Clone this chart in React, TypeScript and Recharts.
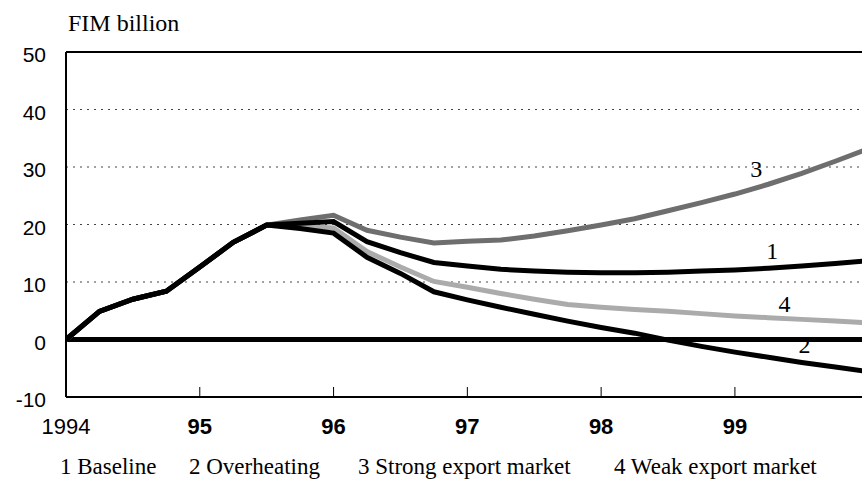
import {
  LineChart, Line, XAxis, YAxis, CartesianGrid, ReferenceLine, ReferenceDot
} from 'recharts';

const quarters = [
  1994, 1994.25, 1994.5, 1994.75, 1995, 1995.25, 1995.5, 1995.75,
  1996, 1996.25, 1996.5, 1996.75, 1997, 1997.25, 1997.5, 1997.75,
  1998, 1998.25, 1998.5, 1998.75, 1999, 1999.25, 1999.5, 1999.75, 2000,
];

const baseline = [
  0, 4.9, 7.0, 8.4, 12.6, 16.9, 19.9, 20.2,
  20.5, 17.0, 15.1, 13.4, 12.8, 12.2, 11.9, 11.7,
  11.6, 11.6, 11.7, 11.9, 12.1, 12.4, 12.8, 13.2, 13.7,
];
const overheating = [
  0, 4.9, 7.0, 8.4, 12.6, 16.9, 19.9, 19.3,
  18.5, 14.3, 11.5, 8.3, 6.9, 5.6, 4.4, 3.2,
  2.1, 1.1, -0.1, -1.2, -2.2, -3.1, -4.0, -4.8, -5.6,
];
const strongExport = [
  0, 4.9, 7.0, 8.4, 12.6, 16.9, 19.9, 20.8,
  21.6, 19.0, 17.8, 16.8, 17.1, 17.3, 18.0, 18.9,
  19.9, 21.0, 22.4, 23.8, 25.3, 27.0, 28.9, 31.0, 33.2,
];
const weakExport = [
  0, 4.9, 7.0, 8.4, 12.6, 16.9, 19.9, 19.7,
  19.4, 15.3, 12.6, 10.1, 9.1, 8.0, 7.0, 6.1,
  5.6, 5.2, 4.9, 4.5, 4.1, 3.8, 3.5, 3.2, 2.9,
];

const yTicks = [-10, 0, 10, 20, 30, 40, 50];
const xTicks = [1994, 1995, 1996, 1997, 1998, 1999];
const xTickLabels = ['1994', '95', '96', '97', '98', '99'];

const legendItems = [
  { text: '1 Baseline', left: 60 },
  { text: '2 Overheating', left: 189 },
  { text: '3 Strong export market', left: 358 },
  { text: '4 Weak export market', left: 614 },
];

// curve number tags placed in data coordinates
const tags = [
  { label: '3', x: 1999.16, y: 28.3 },
  { label: '1', x: 1999.28, y: 14.0 },
  { label: '4', x: 1999.37, y: 4.8 },
  { label: '2', x: 1999.52, y: -2.35 },
];

const data = quarters.map((t, i) => ({
  t,
  baseline: baseline[i],
  overheating: overheating[i],
  strong: strongExport[i],
  weak: weakExport[i],
}));

const serif = "'Liberation Serif', 'Times New Roman', Times, serif";
const sans = "'Liberation Sans', Arial, sans-serif";

function XTick(props: any) {
  const { x, y, payload } = props;
  const idx = xTicks.indexOf(payload.value);
  return (
    <g>
      <line x1={x} x2={x} y1={y - 10} y2={y} stroke="#000" strokeWidth={1} />
      <text
        x={x}
        y={y + 37}
        textAnchor="middle"
        style={{ fontFamily: sans, fontSize: 22, fontWeight: idx === 0 ? 400 : 700 }}
        fill="#000"
      >
        {xTickLabels[idx]}
      </text>
    </g>
  );
}

function YTick(props: any) {
  const { x, y, payload } = props;
  return (
    <text x={x} y={y + 10} textAnchor="end" style={{ fontFamily: sans, fontSize: 21 }} fill="#000">
      {payload.value}
    </text>
  );
}

export default function App() {
  return (
    <div style={{ position: 'absolute', left: 0, top: 0, width: 862, height: 481, background: '#fff' }}>
      <div style={{ position: 'absolute', left: 68, top: 8, fontFamily: serif, fontSize: 24, lineHeight: '30px', color: '#000' }}>
        FIM billion
      </div>
      <LineChart
        width={862}
        height={481}
        data={data}
        margin={{ top: 52, right: 0, bottom: 54, left: 26 }}
      >
        <CartesianGrid
          horizontal
          vertical={false}
          stroke="#444"
          strokeDasharray="2 5"
          horizontalValues={[10, 20, 30, 40]}
        />
        <XAxis
          dataKey="t"
          type="number"
          domain={[1994, 1999.95]}
          allowDataOverflow
          ticks={xTicks}
          tick={<XTick />}
          tickLine={false}
          tickSize={0}
          tickMargin={0}
          axisLine={{ stroke: '#000', strokeWidth: 2 }}
          height={30}
        />
        <YAxis
          type="number"
          domain={[-10, 50]}
          ticks={yTicks}
          tick={<YTick />}
          tickLine={false}
          tickSize={0}
          tickMargin={20}
          width={40}
          axisLine={{ stroke: '#000', strokeWidth: 2 }}
        />
        <ReferenceLine y={50} stroke="#000" strokeWidth={2} />
        <ReferenceLine y={0} stroke="#000" strokeWidth={5} />
        <Line dataKey="weak" type="linear" stroke="#ababab" strokeWidth={5} dot={false} isAnimationActive={false} />
        <Line dataKey="strong" type="linear" stroke="#6e6e6e" strokeWidth={5} dot={false} isAnimationActive={false} />
        <Line dataKey="baseline" type="linear" stroke="#000" strokeWidth={5} dot={false} isAnimationActive={false} />
        <Line dataKey="overheating" type="linear" stroke="#000" strokeWidth={5} dot={false} isAnimationActive={false} />
        {tags.map((tg) => (
          <ReferenceDot
            key={tg.label}
            x={tg.x}
            y={tg.y}
            r={0}
            shape={(p: any) => (
              <text x={p.cx} y={p.cy} textAnchor="middle" style={{ fontFamily: serif, fontSize: 24 }} fill="#000">
                {tg.label}
              </text>
            )}
          />
        ))}
      </LineChart>
      {legendItems.map((item) => (
        <div
          key={item.text}
          style={{
            position: 'absolute',
            left: item.left,
            top: 452,
            fontFamily: serif,
            fontSize: 23,
            lineHeight: '30px',
            color: '#000',
            whiteSpace: 'nowrap',
          }}
        >
          {item.text}
        </div>
      ))}
    </div>
  );
}
